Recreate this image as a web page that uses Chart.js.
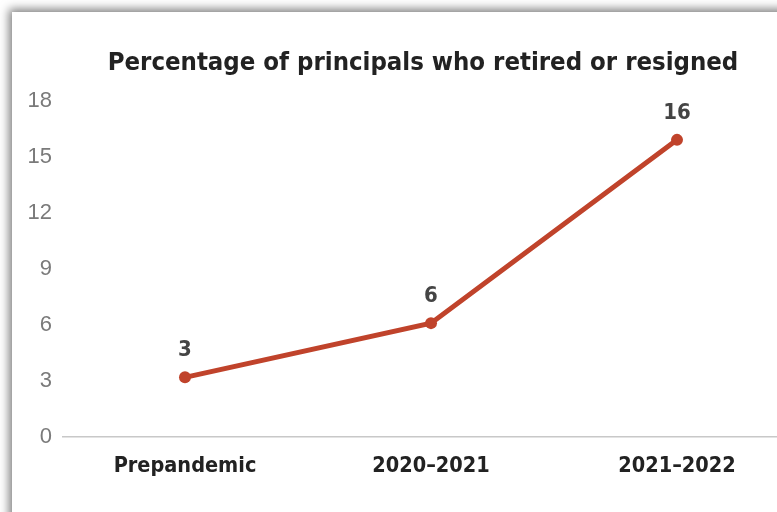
<!DOCTYPE html>
<html>
<head>
<meta charset="utf-8">
<script src="https://cdn.jsdelivr.net/npm/chart.js@4/dist/chart.umd.min.js"></script>
<style>
  html, body { margin: 0; padding: 0; background: #fff; overflow: hidden; width: 777px; height: 512px; }
  .marco {
    position: absolute; left: 12px; top: 12px; width: 800px; height: 540px;
    background: #fff;
    box-shadow: -3px -3px 9px rgba(0,0,0,0.5);
  }
  .lienzo { position: absolute; left: 0; top: 0; width: 846px; height: 512px; }
</style>
</head>
<body>
<div class="marco"></div>
<div class="lienzo"><canvas id="grafico"></canvas></div>
<script>
// datos del gráfico
const categorias = ['Prepandemic', '2020\u20132021', '2021\u20132022'];
const porcentajes = [3.2, 6.1, 15.9];
const etiquetasValor = ['3', '6', '16'];
const ticksY = [0, 3, 6, 9, 12, 15, 18];

const fuenteCondensada = "'Liberation Sans Narrow', 'DejaVu Sans Condensed', 'Roboto Condensed', sans-serif";

// etiquetas encima de cada punto
const pluginEtiquetas = {
  id: 'etiquetasValor',
  afterDatasetsDraw(chart) {
    const ctx = chart.ctx;
    const meta = chart.getDatasetMeta(0);
    ctx.save();
    ctx.font = 'bold 22px ' + fuenteCondensada;
    ctx.fillStyle = '#444444';
    ctx.textAlign = 'center';
    ctx.textBaseline = 'middle';
    meta.data.forEach((p, i) => {
      ctx.fillText(etiquetasValor[i], p.x, p.y - 27);
    });
    ctx.restore();
  }
};

new Chart(document.getElementById('grafico'), {
  type: 'line',
  data: {
    labels: categorias,
    datasets: [{
      data: porcentajes,
      borderColor: '#c0432b',
      backgroundColor: '#c0432b',
      borderWidth: 5,
      pointRadius: 6,
      pointBorderWidth: 0,
      tension: 0
    }]
  },
  options: {
    responsive: true,
    maintainAspectRatio: false,
    animation: false,
    layout: { padding: { left: 0, right: 0, top: 0, bottom: 17 } },
    plugins: {
      legend: { display: false },
      tooltip: { enabled: false },
      title: {
        display: true,
        text: 'Percentage of principals who retired or resigned',
        color: '#222222',
        font: { family: fuenteCondensada, size: 25.5, weight: 'bold' },
        padding: { top: 48, bottom: 22 }
      }
    },
    scales: {
      x: {
        offset: true,
        grid: { display: false, drawTicks: false },
        border: { display: false },
        ticks: {
          color: '#222222',
          padding: 16,
          font: { family: fuenteCondensada, size: 21.5, weight: 'bold' }
        }
      },
      y: {
        min: 0,
        max: 18,
        afterBuildTicks: (s) => { s.ticks = ticksY.map(v => ({ value: v })); },
        afterFit: (s) => { s.width = 62; },
        grid: {
          drawTicks: false,
          color: (c) => c.tick && c.tick.value === 0 ? '#c8c8c8' : 'rgba(0,0,0,0)',
          lineWidth: 1.5
        },
        border: { display: false },
        ticks: {
          color: '#7a7a7a',
          padding: 10,
          font: { family: "'Liberation Sans', Arial, sans-serif", size: 22 }
        }
      },
      derecha: {
        position: 'right',
        grid: { display: false, drawTicks: false },
        border: { display: false },
        ticks: { display: false },
        afterFit: (s) => { s.width = 46; }
      }
    }
  },
  plugins: [pluginEtiquetas]
});
</script>
</body>
</html>
